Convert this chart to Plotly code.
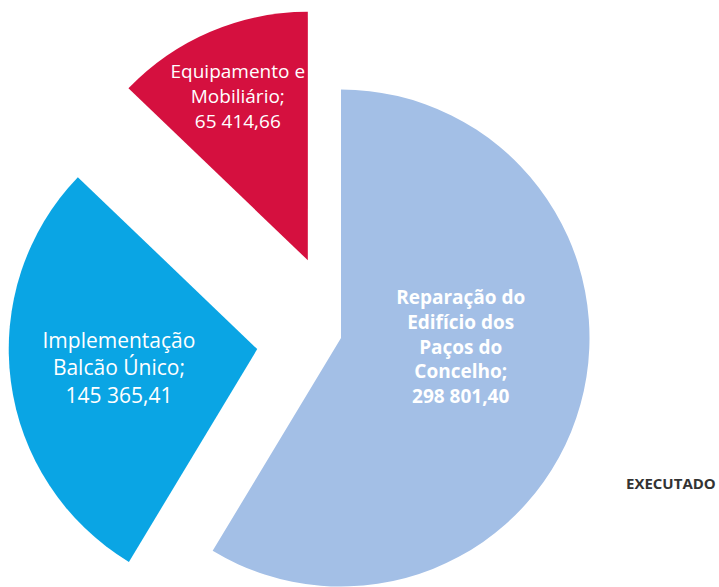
import plotly.graph_objects as go

labels = ["Reparação do<br>Edifício dos<br>Paços do<br>Concelho",
          "Implementação<br>Balcão Único",
          "Equipamento e<br>Mobiliário"]
values = [298801.40, 145365.41, 65414.66]
colors = ["#A3BFE6", "#0AA5E4", "#D5103F"]
pulls = [0.0, 0.34, 0.34]
title_text = "EXECUTADO"

fig = go.Figure(go.Pie(
    labels=labels,
    values=values,
    sort=False,
    direction="clockwise",
    rotation=0,
    pull=pulls,
    marker=dict(colors=colors, line=dict(width=0)),
    textposition="inside",
    insidetextorientation="horizontal",
    texttemplate=["<b>%{label};<br>%{value:,.2f}</b><br> <br> ",
                  "%{label};<br>%{value:,.2f}",
                  "%{label};<br>%{value:,.2f}"],
    textfont=dict(family="Open Sans", size=[19, 21, 19], color="white"),
    hoverinfo="label+value",
    showlegend=False,
))

fig.update_layout(
    width=719, height=680,
    margin=dict(l=8, r=45, t=5, b=9),
    separators=", ",
    paper_bgcolor="white",
    plot_bgcolor="white",
    uniformtext=dict(minsize=18, mode="show"),
    annotations=[dict(text="<b>" + title_text + "</b>", xref="paper", yref="paper",
                      x=(718 - 8) / 666, y=1 - (483 - 5) / 666, showarrow=False,
                      font=dict(family="Liberation Sans Narrow, Arial Narrow, Open Sans",
                                size=15, color="#333333"),
                      xanchor="right", yanchor="middle")],
)

fig.write_html("out.html",
               config={"displayModeBar": False},
               post_script="document.body.style.margin='0';document.body.style.overflow='hidden';document.documentElement.style.overflow='hidden';")
